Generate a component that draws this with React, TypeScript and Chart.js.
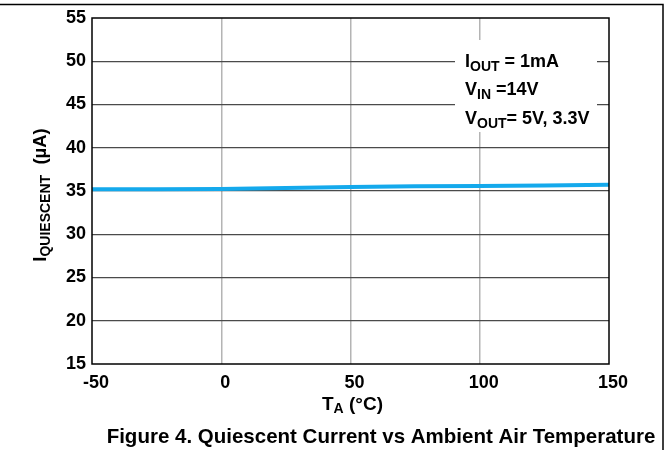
import React, { useEffect, useRef } from "react";
import { Chart, registerables } from "chart.js";

Chart.register(...registerables);

const temperatures = [-50, -25, 0, 25, 50, 75, 100, 125, 150];
const quiescentCurrent = [35.2, 35.2, 35.22, 35.35, 35.45, 35.55, 35.58, 35.63, 35.72];
const xTicks = [-50, 0, 50, 100, 150];
const yTicks = [15, 20, 25, 30, 35, 40, 45, 50, 55];
const annotationLines = [
  [{ t: "I" }, { t: "OUT", sub: true }, { t: " = 1mA" }],
  [{ t: "V" }, { t: "IN", sub: true }, { t: " =14V" }],
  [{ t: "V" }, { t: "OUT", sub: true }, { t: "= 5V, 3.3V" }],
];
const yTitle = [{ t: "I" }, { t: "QUIESCENT", sub: true }, { t: "  (µA)" }];
const xTitle = [{ t: "T" }, { t: "A", sub: true }, { t: " (°C)" }];
const caption = "Figure 4. Quiescent Current vs Ambient Air Temperature";

const FONT = "Arial, 'Liberation Sans', Helvetica, sans-serif";

type Part = { t: string; sub?: boolean };

function measureRich(ctx: CanvasRenderingContext2D, parts: Part[], main: number, sub: number) {
  let w = 0;
  for (const p of parts) {
    ctx.font = `bold ${p.sub ? sub : main}px ${FONT}`;
    w += ctx.measureText(p.t).width;
  }
  return w;
}

function drawRich(
  ctx: CanvasRenderingContext2D,
  parts: Part[],
  x: number,
  y: number,
  main: number,
  sub: number,
  subShift: number
) {
  let cx = x;
  ctx.textBaseline = "alphabetic";
  ctx.textAlign = "left";
  for (const p of parts) {
    ctx.font = `bold ${p.sub ? sub : main}px ${FONT}`;
    ctx.fillText(p.t, cx, p.sub ? y + subShift : y);
    cx += ctx.measureText(p.t).width;
  }
}

const decorPlugin = {
  id: "decor",
  afterDraw(chart: any) {
    const ctx: CanvasRenderingContext2D = chart.ctx;
    const a = chart.chartArea;
    ctx.save();
    // plot frame
    ctx.strokeStyle = "#000";
    ctx.lineWidth = 1.5;
    ctx.strokeRect(a.left, a.top, a.right - a.left, a.bottom - a.top);
    // outer figure frame (top and right)
    ctx.beginPath();
    ctx.moveTo(0, 4.5);
    ctx.lineTo(663, 4.5);
    ctx.lineTo(663, 450);
    ctx.stroke();
    // annotation box
    ctx.fillStyle = "#fff";
    ctx.fillRect(455, 40, 142, 92);
    ctx.fillStyle = "#000";
    const baselines = [67, 95, 124];
    annotationLines.forEach((line, i) => drawRich(ctx, line as Part[], 465, baselines[i], 18, 14, 4));
    // y title
    ctx.save();
    ctx.translate(46, 195);
    ctx.rotate(-Math.PI / 2);
    const wy = measureRich(ctx, yTitle as Part[], 18.5, 14);
    drawRich(ctx, yTitle as Part[], -wy / 2, 0, 18.5, 14, 4);
    ctx.restore();
    // x title
    const wx = measureRich(ctx, xTitle as Part[], 19, 14);
    drawRich(ctx, xTitle as Part[], (a.left + a.right) / 2 - wx / 2 + 2, 410, 19, 14, 3);
    // caption
    ctx.font = `bold 20.5px ${FONT}`;
    ctx.textAlign = "left";
    ctx.textBaseline = "alphabetic";
    const cw = ctx.measureText(caption).width;
    ctx.fillText(caption, 381 - cw / 2, 443);
    ctx.restore();
  },
};

export default function App() {
  const ref = useRef<HTMLCanvasElement | null>(null);
  useEffect(() => {
    if (!ref.current) return;
    const chart = new Chart(ref.current, {
      type: "line",
      data: {
        datasets: [
          {
            data: temperatures.map((t, i) => ({ x: t, y: quiescentCurrent[i] })),
            borderColor: "#14a9ec",
            borderWidth: 4,
            pointRadius: 0,
            tension: 0,
            fill: false,
          },
        ],
      },
      options: {
        animation: false,
        responsive: true,
        maintainAspectRatio: false,
        devicePixelRatio: 1,
        layout: { padding: { left: 0, top: 18, right: 60, bottom: 0 } },
        plugins: { legend: { display: false }, tooltip: { enabled: false } },
        scales: {
          x: {
            type: "linear",
            min: -50,
            max: 150,
            afterFit: (s: any) => {
              s.height = 86;
            },
            afterBuildTicks: (s: any) => {
              s.ticks = xTicks.map((v) => ({ value: v }));
            },
            border: { display: false },
            grid: {
              color: (c: any) => (c.tick && (c.tick.value === -50 || c.tick.value === 150) ? "rgba(0,0,0,0)" : "#b4b4b4"),
              lineWidth: 1.5,
              drawTicks: false,
            },
            ticks: {
              padding: 8,
              labelOffset: 4,
              color: "#000",
              font: { family: FONT, size: 18, weight: "bold" },
            },
          },
          y: {
            type: "linear",
            min: 15,
            max: 55,
            afterFit: (s: any) => {
              s.width = 92;
            },
            afterBuildTicks: (s: any) => {
              s.ticks = yTicks.map((v) => ({ value: v }));
            },
            border: { display: false },
            grid: {
              color: (c: any) => (c.tick && (c.tick.value === 15 || c.tick.value === 55) ? "rgba(0,0,0,0)" : "#4a4a4a"),
              lineWidth: 1.3,
              drawTicks: false,
            },
            ticks: {
              padding: 6,
              color: "#000",
              font: { family: FONT, size: 18, weight: "bold" },
            },
          },
        },
      },
      plugins: [decorPlugin],
    } as any);
    return () => chart.destroy();
  }, []);
  return (
    <div style={{ position: "fixed", left: 0, top: 0, width: 669, height: 450, background: "#fff" }}>
      <canvas ref={ref} />
    </div>
  );
}
